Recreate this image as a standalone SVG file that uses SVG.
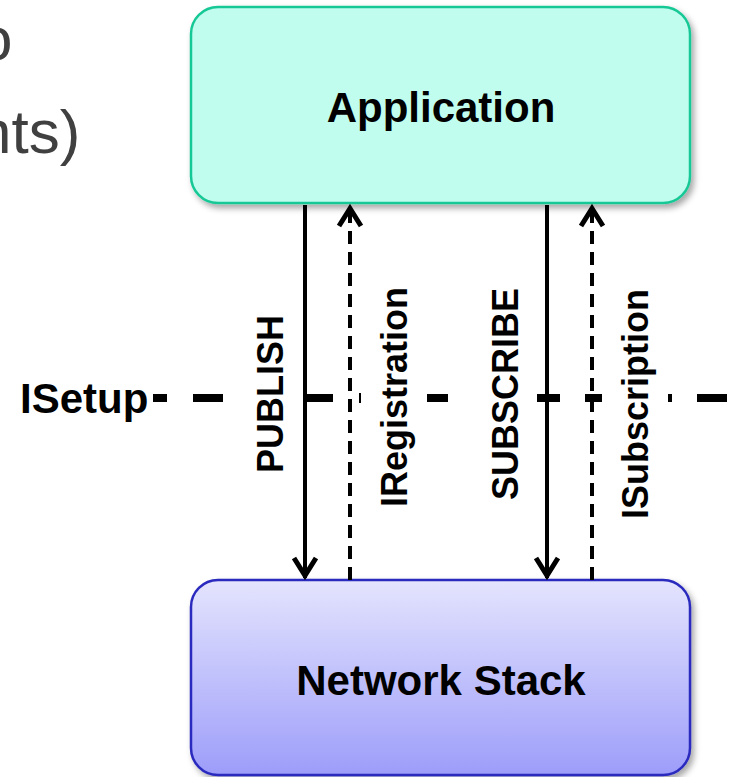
<svg xmlns="http://www.w3.org/2000/svg" width="733" height="777" viewBox="0 0 733 777">
  <style>
    .box-label { font-family: "Liberation Sans", Arial, sans-serif; font-weight: bold; font-size: 42px; fill: #000; }
    .flow-label { font-family: "Liberation Sans", Arial, sans-serif; font-weight: bold; font-size: 36px; fill: #000; }
    .slide-text { font-family: "Liberation Sans", Arial, sans-serif; font-size: 62px; fill: #404040; }
    .call { fill: none; stroke: #000; stroke-width: 4; }
    .reply { fill: none; stroke: #000; stroke-width: 4; stroke-dasharray: 13 8; }
    .setup { fill: none; stroke: #000; stroke-width: 8; }
  </style>
  <defs>
    <linearGradient id="stackFill" x1="0" y1="0" x2="0" y2="1">
      <stop offset="0" stop-color="#e4e4fe"/>
      <stop offset="1" stop-color="#9d9dfa"/>
    </linearGradient>
    <filter id="shadow" x="-10%" y="-10%" width="125%" height="130%">
      <feDropShadow dx="3" dy="4" stdDeviation="3" flood-color="#000" flood-opacity="0.35"/>
    </filter>
    <marker id="chevron" markerUnits="userSpaceOnUse" viewBox="-26 -14 30 28" markerWidth="30" markerHeight="28" refX="0" refY="0" orient="auto" overflow="visible">
      <path d="M-20,-11 L-2.5,0 L-20,11" fill="none" stroke="#000" stroke-width="5"/>
    </marker>
  </defs>

  <rect width="733" height="777" fill="#fff"/>

  <!-- slide text running off the left edge -->
  <g id="slide-text">
    <text class="slide-text" x="-22" y="60">o</text>
    <text class="slide-text" x="-23" y="153">nts)</text>
  </g>

  <!-- setup boundary -->
  <g id="isetup">
    <text class="box-label" x="20" y="413">ISetup</text>
    <path class="setup" d="M153 398H167 M193 398H223 M305 398H333 M427 398H448 M537 398H560 M585 398H602 M697 398H727"/>
    <path fill="none" stroke="#000" stroke-width="2" d="M360 393V403"/>
    <path fill="none" stroke="#000" stroke-width="4" d="M670 394V402"/>
  </g>

  <g id="application">
    <rect x="191" y="7" width="499" height="196" rx="27" fill="#c1fdee" stroke="#18c896" stroke-width="2.5" filter="url(#shadow)"/>
    <text class="box-label" x="441" y="122" text-anchor="middle">Application</text>
  </g>

  <g id="network-stack">
    <rect x="191" y="580" width="499" height="195" rx="27" fill="url(#stackFill)" stroke="#2b2bbf" stroke-width="2.5" filter="url(#shadow)"/>
    <text class="box-label" x="441" y="695" text-anchor="middle">Network Stack</text>
  </g>

  <g id="connectors">
    <path class="call" d="M305 205V578" marker-end="url(#chevron)"/>
    <path class="reply" d="M350 580V206" marker-end="url(#chevron)"/>
    <path class="call" d="M547 205V578" marker-end="url(#chevron)"/>
    <path class="reply" d="M592 580V206" marker-end="url(#chevron)"/>
  </g>

  <g id="labels">
    <text class="flow-label" text-anchor="middle" transform="translate(283,394) rotate(-90)">PUBLISH</text>
    <text class="flow-label" text-anchor="middle" transform="translate(407,397) rotate(-90)">IRegistration</text>
    <text class="flow-label" text-anchor="middle" transform="translate(518,394) rotate(-90)">SUBSCRIBE</text>
    <text class="flow-label" text-anchor="middle" transform="translate(648,404) rotate(-90)">ISubscription</text>
  </g>
</svg>
